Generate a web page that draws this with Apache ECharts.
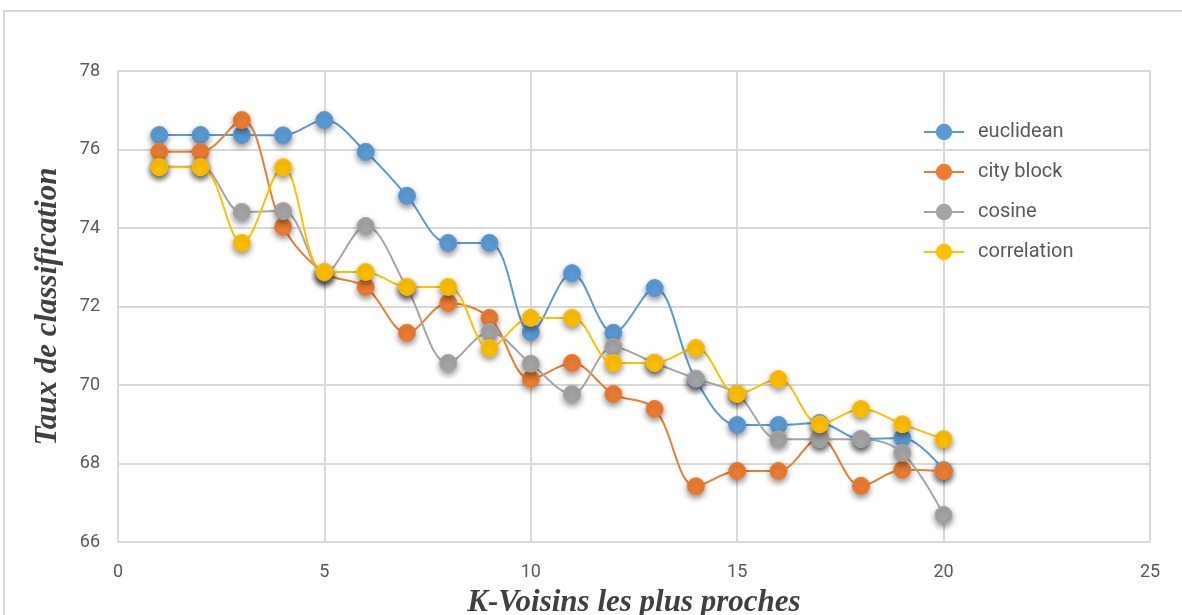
<!DOCTYPE html>
<html>
<head>
<meta charset="utf-8">
<script src="https://cdn.jsdelivr.net/npm/echarts@6/dist/echarts.min.js"></script>
<style>
  html, body { margin: 0; padding: 0; background: #fff; }
  #main { position: absolute; left: 0; top: 0; width: 1182px; height: 615px; }
</style>
</head>
<body>
<div id="main"></div>
<script>
// K values
var kValues = [1, 2, 3, 4, 5, 6, 7, 8, 9, 10, 11, 12, 13, 14, 15, 16, 17, 18, 19, 20];
var seriesNames = ["euclidean", "city block", "cosine", "correlation"];
var euclidean = [76.37, 76.37, 76.37, 76.36, 76.75, 75.94, 74.82, 73.62, 73.62, 71.35,
  72.85, 71.33, 72.47, 70.13, 68.98, 68.98, 69.03, 68.62, 68.65, 67.83];
var cityBlock = [75.94, 75.94, 76.75, 74.03, 72.85, 72.5, 71.33, 72.09, 71.71, 70.15,
  70.56, 69.77, 69.39, 67.42, 67.81, 67.81, 68.65, 67.43, 67.84, 67.81];
var cosine = [75.56, 75.56, 74.41, 74.43, 72.85, 74.05, 72.47, 70.56, 71.35, 70.54,
  69.77, 70.97, 70.56, 70.16, 69.77, 68.62, 68.62, 68.62, 68.27, 66.69];
var correlation = [75.55, 75.55, 73.62, 75.55, 72.88, 72.88, 72.5, 72.5, 70.94, 71.71,
  71.71, 70.56, 70.56, 70.94, 69.77, 70.15, 69.0, 69.39, 69.0, 68.62];
var colors = ["#5B9BD5", "#ED7D31", "#A5A5A5", "#FFC000"];

function pairs(vals) {
  return kValues.map(function (k, i) { return [k, vals[i]]; });
}

var myChart = echarts.init(document.getElementById("main"));
var allData = [euclidean, cityBlock, cosine, correlation];

var series = seriesNames.map(function (name, i) {
  return {
    name: name,
    type: "line",
    data: pairs(allData[i]),
    smooth: 0.35,
    symbol: "circle",
    symbolSize: 17,
    lineStyle: { width: 2, color: colors[i] },
    itemStyle: {
      color: colors[i],
      borderColor: colors[i],
      borderWidth: 1,
      shadowBlur: 6,
      shadowColor: "rgba(0,0,0,0.45)",
      shadowOffsetY: 3,
    },
    emphasis: { disabled: true },
    z: 2 + i,
  };
});

var titleStyle = {
  fontFamily: "Liberation Serif, serif",
  fontStyle: "italic",
  fontWeight: "bold",
  fontSize: 31,
  color: "#404040",
};

var option = {
  animation: false,
  color: colors,
  graphic: [
    {
      type: "rect",
      shape: { x: 4, y: 11, width: 1190, height: 620 },
      style: { fill: "none", stroke: "#d9d9d9", lineWidth: 2 },
      silent: true,
    },
  ],
  grid: { left: 118, right: 32, top: 71, bottom: 73, containLabel: false, outerBoundsMode: "none" },
  legend: {
    orient: "vertical",
    left: 918,
    top: 117,
    itemGap: 20,
    itemWidth: 40,
    itemHeight: 18,
    data: seriesNames,
    textStyle: {
      fontFamily: "Roboto, sans-serif",
      fontSize: 20,
      color: "#595959",
      padding: [0, 0, 0, 9],
    },
  },
  xAxis: {
    type: "value",
    min: 0,
    max: 25,
    interval: 5,
    name: "K-Voisins les plus proches",
    nameLocation: "middle",
    nameGap: 45,
    nameTextStyle: titleStyle,
    axisLine: { show: true, lineStyle: { color: "#d9d9d9", width: 2 } },
    axisTick: { show: false },
    axisLabel: {
      color: "#595959",
      fontSize: 18,
      margin: 21,
      fontFamily: "Roboto, sans-serif",
    },
    splitLine: { show: true, lineStyle: { color: "#d9d9d9", width: 2 } },
  },
  yAxis: {
    type: "value",
    min: 66,
    max: 78,
    interval: 2,
    name: "Taux de classification",
    nameLocation: "middle",
    nameGap: 55,
    nameTextStyle: titleStyle,
    axisLine: { show: false },
    axisTick: { show: false },
    axisLabel: {
      color: "#595959",
      fontSize: 18,
      margin: 18,
      fontFamily: "Roboto, sans-serif",
    },
    splitLine: { show: true, lineStyle: { color: "#d9d9d9", width: 2 } },
  },
  series: series,
};

myChart.setOption(option);
window.addEventListener("resize", function () {
  myChart.resize();
});
</script>
</body>
</html>
